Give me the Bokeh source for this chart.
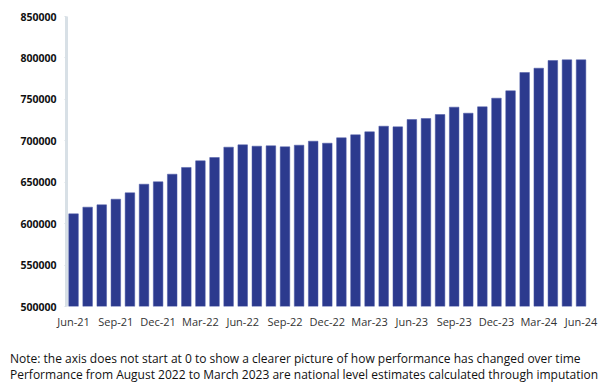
from bokeh.plotting import figure
from bokeh.layouts import column
from bokeh.models import ColumnDataSource, FixedTicker, Range1d, Div
from bokeh.embed import file_html
from bokeh.resources import INLINE

months = ["Jun-21", "Jul-21", "Aug-21", "Sep-21", "Oct-21", "Nov-21", "Dec-21", "Jan-22", "Feb-22",
          "Mar-22", "Apr-22", "May-22", "Jun-22", "Jul-22", "Aug-22", "Sep-22", "Oct-22", "Nov-22",
          "Dec-22", "Jan-23", "Feb-23", "Mar-23", "Apr-23", "May-23", "Jun-23", "Jul-23", "Aug-23",
          "Sep-23", "Oct-23", "Nov-23", "Dec-23", "Jan-24", "Feb-24", "Mar-24", "Apr-24", "May-24",
          "Jun-24"]
values = [611800, 619900, 622700, 629500, 637200, 647600, 650500, 659700, 667800,
          675800, 679800, 692300, 695100, 693500, 693900, 692700, 694700, 699500,
          697100, 703600, 707200, 710800, 717600, 716800, 725700, 726900, 731700,
          740600, 733300, 741000, 751400, 760300, 782400, 787600, 796900, 797700,
          797700]
y_ticks = [500000, 550000, 600000, 650000, 700000, 750000, 800000, 850000]
notes = ["Note: the axis does not start at 0 to show a clearer picture of how performance has changed over time",
         "Performance from August 2022 to March 2023 are national level estimates calculated through imputation"]

idx = list(range(len(months)))
src = ColumnDataSource(dict(x=idx, top=values, month=months))

p = figure(width=610, height=335, output_backend="svg", toolbar_location=None,
           x_range=Range1d(-0.5, 36.6), y_range=Range1d(500000, 850000),
           min_border_left=66, min_border_right=21, min_border_top=16, min_border_bottom=29)
p.vbar(x="x", top="top", bottom=500000, width=0.68, source=src,
       fill_color="#2c3a8e", line_color="#4a58a6", line_width=0.5)

p.grid.visible = False
p.outline_line_color = None
p.background_fill_color = "white"
p.border_fill_color = "white"

p.yaxis.ticker = FixedTicker(ticks=y_ticks)
p.yaxis.major_label_overrides = {t: str(t) for t in y_ticks}
p.yaxis.axis_line_color = "#d8e0e6"
p.yaxis.axis_line_width = 3
p.yaxis.major_tick_line_color = "#d8e0e6"
p.yaxis.major_tick_out = 2
p.yaxis.major_tick_in = 0
p.yaxis.minor_tick_line_color = None
p.yaxis.major_label_text_font = "Open Sans"
p.yaxis.major_label_text_font_style = "bold"
p.yaxis.major_label_text_font_size = "10.5px"
p.yaxis.major_label_text_color = "#111111"
p.yaxis.major_label_standoff = 8

tick_idx = idx[::3]
p.xaxis.ticker = FixedTicker(ticks=tick_idx)
p.xaxis.major_label_overrides = {i: months[i] for i in tick_idx}
p.xaxis.axis_line_color = None
p.xaxis.major_tick_line_color = None
p.xaxis.minor_tick_line_color = None
p.xaxis.major_label_text_font = "Open Sans"
p.xaxis.major_label_text_font_size = "11px"
p.xaxis.major_label_text_color = "#333333"
p.xaxis.major_label_standoff = 1

# notes below the chart
note_div = Div(text="<br>".join(notes), width=610, height=56, margin=0,
               styles={"font-family": "Open Sans", "font-size": "12px", "line-height": "16px",
                       "color": "#111111", "padding-left": "10px", "padding-top": "16px",
                       "box-sizing": "border-box", "white-space": "nowrap",
                       "background-color": "white"})

layout = column(p, note_div, spacing=0)
open("out.html", "w").write(file_html(layout, INLINE))
